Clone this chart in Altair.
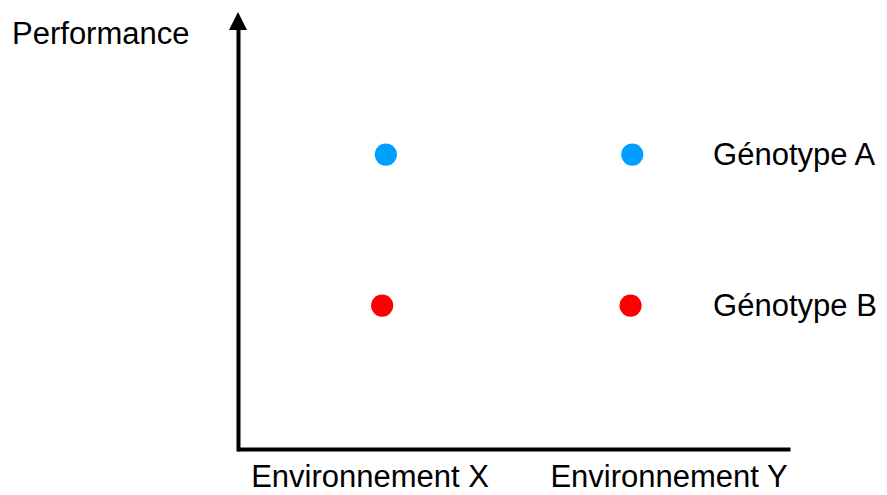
import altair as alt
import pandas as pd

# ---- data ----
environments = ["Environnement X", "Environnement Y"]
env_label_x = [0.936, 2.149]
env_label_y = -0.20

point_x = [1.0, 2.0, 0.985, 1.993]
point_perf = [2.0, 2.0, 1.0, 1.0]
point_genotype = ["Génotype A", "Génotype A", "Génotype B", "Génotype B"]

genotypes = ["Génotype A", "Génotype B"]
genotype_colors = ["#009FFF", "#FF0000"]
geno_label_x = [2.328, 2.328]
geno_label_y = [2.0, 1.0]

y_title = ["Performance"]
y_title_x = [-0.517]
y_title_y = [2.733]

x_domain = [0.4, 2.64]
y_domain = [0.05, 2.885]

FONT = "Liberation Sans"
FS = 31

points_df = pd.DataFrame({"x": point_x, "y": point_perf, "g": point_genotype})
geno_df = pd.DataFrame({"x": geno_label_x, "y": geno_label_y, "t": genotypes})
env_df = pd.DataFrame({"x": env_label_x, "y": [env_label_y] * 2, "t": environments})
ytitle_df = pd.DataFrame({"x": y_title_x, "y": y_title_y, "t": y_title})
arrow_df = pd.DataFrame({"x": [x_domain[0]], "y": [y_domain[1]]})

xaxis = alt.Axis(title="", labels=False, ticks=False, grid=False, domain=True,
                 domainColor="black", domainWidth=4)
yaxis = alt.Axis(title="", labels=False, ticks=False, grid=False, domain=True,
                 domainColor="black", domainWidth=4, domainCap="square")


def X():
    return alt.X("x:Q", scale=alt.Scale(domain=x_domain, nice=False, zero=False), axis=xaxis)


def Y():
    return alt.Y("y:Q", scale=alt.Scale(domain=y_domain, nice=False, zero=False), axis=yaxis)


pts = alt.Chart(points_df).mark_circle(size=490, opacity=1).encode(
    x=X(), y=Y(),
    color=alt.Color("g:N", scale=alt.Scale(domain=genotypes, range=genotype_colors), legend=None),
)

geno_txt = alt.Chart(geno_df).mark_text(
    align="left", baseline="middle", font=FONT, fontSize=FS, color="black", dy=1
).encode(x=X(), y=Y(), text="t:N")

env_txt = alt.Chart(env_df).mark_text(
    align="center", baseline="alphabetic", font=FONT, fontSize=FS, color="black"
).encode(x=X(), y=Y(), text="t:N")

ytitle_txt = alt.Chart(ytitle_df).mark_text(
    align="left", baseline="alphabetic", font=FONT, fontSize=FS, color="black"
).encode(x=X(), y=Y(), text="t:N")

arrow = alt.Chart(arrow_df).mark_point(
    shape="M0,-1L-1,1L1,1Z", size=324, filled=True, color="black", opacity=1
).encode(x=X(), y=Y())

chart = alt.layer(pts, geno_txt, env_txt, ytitle_txt, arrow).properties(
    width=552, height=428,
    autosize=alt.AutoSizeParams(type="none"),
    padding={"left": 230, "top": 13, "right": 89, "bottom": 46},
    background="white",
).configure_view(stroke="transparent")

chart.save("out.html", embed_options={"renderer": "svg", "actions": False})
